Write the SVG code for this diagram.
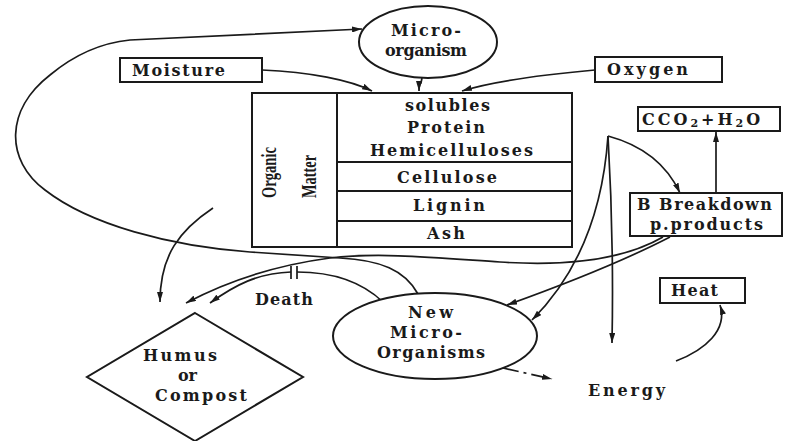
<svg xmlns="http://www.w3.org/2000/svg" width="795" height="441" viewBox="0 0 795 441">
<defs>
<marker id="ah" viewBox="0 0 10 6" refX="10" refY="3" markerWidth="10" markerHeight="6" markerUnits="userSpaceOnUse" orient="auto">
<path d="M0,0 L10,3 L0,6 Z" fill="#1a1a1a"/>
</marker>
<style>
.t{font-family:"DejaVu Serif","Liberation Serif",serif;font-weight:bold;font-size:16px;fill:#1a1a1a}
.r{font-family:"Liberation Serif","DejaVu Serif",serif;font-weight:bold;font-size:22px;fill:#1a1a1a}
.b{fill:#fff;stroke:#1a1a1a;stroke-width:2}
.c{fill:none;stroke:#1a1a1a;stroke-width:1.7}
.a{marker-end:url(#ah)}
</style>
</defs>
<rect width="795" height="441" fill="#fff"/>

<g id="connectors">
<path class="c a" d="M418,294 C405,270 380,260 340,258 L250,252 C170,246 90,225 45,190 C5,160 5,110 50,75 C80,50 110,42 130,40 L362,29"/>
<path class="c a" d="M663,237 C620,262 560,266 500,262 C440,258 380,252 330,258 C270,266 220,285 186,303"/>
<path class="c" d="M383,302 C360,280 330,272 297,272"/>
<path class="c a" d="M291,272 C258,273 235,285 210,303"/>
<path class="c" d="M291,266 L291,279 M297,266 L297,279"/>
<path class="c a" d="M213,208 C180,230 160,255 160,302"/>
<path class="c a" d="M262,70 C310,72 350,80 372,91"/>
<path class="c a" d="M595,70 C540,75 490,82 462,91"/>
<path class="c a" d="M422,78 L421,83 Q419,84 419,91"/>
<path class="c a" d="M608,136 Q660,150 680,193"/>
<path class="c a" d="M608,136 Q600,252 532,320"/>
<path class="c a" d="M608,136 Q614,240 612,343"/>
<path class="c a" d="M670,237 Q610,268 507,305"/>
<path class="c a" d="M716,193 L716,132"/>
<path class="c a" d="M503,368 L552,379" stroke-dasharray="16,5,3,5"/>
<path class="c a" d="M676,361 C705,350 728,330 720,305"/>
</g>

<g id="microorganism">
<ellipse class="b" cx="428" cy="42" rx="69" ry="36"/>
<text class="t" x="391" y="36" textLength="70" lengthAdjust="spacing">Micro-</text>
<text class="t" x="385" y="56" textLength="82" lengthAdjust="spacing">organism</text>
</g>

<g id="moisture">
<rect class="b" x="120" y="58" width="142" height="24"/>
<text class="t" x="132" y="76" textLength="93" lengthAdjust="spacing">Moisture</text>
</g>

<g id="oxygen">
<rect class="b" x="595" y="57" width="127" height="25"/>
<text class="t" x="607" y="75" textLength="81" lengthAdjust="spacing">Oxygen</text>
</g>

<g id="organic-matter">
<rect class="b" x="252" y="93" width="320" height="154"/>
<path class="c" style="stroke-width:2" d="M337,93 L337,247 M337,162 L572,162 M337,191 L572,191 M337,221 L572,221"/>
<text class="r" transform="translate(276,198) rotate(-90)" textLength="51" lengthAdjust="spacingAndGlyphs">Organic</text>
<text class="r" transform="translate(316,198) rotate(-90)" textLength="43" lengthAdjust="spacingAndGlyphs">Matter</text>
<text class="t" x="405" y="111" textLength="85" lengthAdjust="spacing">solubles</text>
<text class="t" x="407" y="133" textLength="78" lengthAdjust="spacing">Protein</text>
<text class="t" x="370" y="156" textLength="163" lengthAdjust="spacing">Hemicelluloses</text>
<text class="t" x="397" y="183" textLength="100" lengthAdjust="spacing">Cellulose</text>
<text class="t" x="413" y="211" textLength="72" lengthAdjust="spacing">Lignin</text>
<text class="t" x="427" y="239" textLength="38" lengthAdjust="spacing">Ash</text>
</g>

<g id="co2-h2o">
<rect class="b" x="638" y="107" width="142" height="24"/>
<text class="t" x="642" y="125" letter-spacing="3">CCO<tspan font-size="11" dy="2">2</tspan><tspan dy="-2">+H</tspan><tspan font-size="11" dy="2">2</tspan><tspan dy="-2">O</tspan></text>
</g>

<g id="breakdown-products">
<rect class="b" x="630" y="193" width="152" height="43"/>
<text class="t" x="637" y="210" textLength="135" lengthAdjust="spacing">B Breakdown</text>
<text class="t" x="650" y="230" textLength="113" lengthAdjust="spacing">p.products</text>
</g>

<g id="heat">
<rect class="b" x="660" y="278" width="85" height="25"/>
<text class="t" x="671" y="296" textLength="47" lengthAdjust="spacing">Heat</text>
</g>

<g id="new-microorganisms">
<ellipse class="b" cx="435" cy="336" rx="102" ry="43"/>
<text class="t" x="408" y="318" textLength="45" lengthAdjust="spacing">New</text>
<text class="t" x="390" y="338" textLength="72" lengthAdjust="spacing">Micro-</text>
<text class="t" x="377" y="358" textLength="108" lengthAdjust="spacing">Organisms</text>
</g>

<g id="humus">
<path class="b" d="M195,313 L303,377 L195,441 L87,377 Z"/>
<text class="t" x="143" y="361" textLength="74" lengthAdjust="spacing">Humus</text>
<text class="t" x="178" y="381" textLength="19" lengthAdjust="spacing">or</text>
<text class="t" x="155" y="401" textLength="92" lengthAdjust="spacing">Compost</text>
</g>

<g id="death">
<text class="t" x="255" y="305" textLength="58" lengthAdjust="spacing">Death</text>
</g>

<g id="energy">
<text class="t" x="588" y="396" textLength="77" lengthAdjust="spacing">Energy</text>
</g>
</svg>
